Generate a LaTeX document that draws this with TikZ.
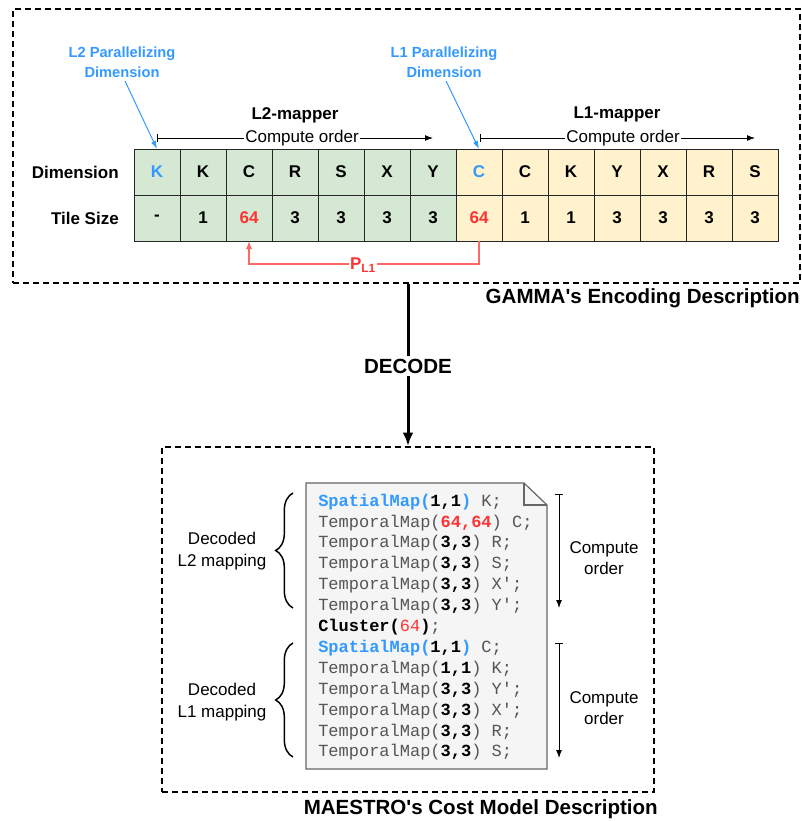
\documentclass[tikz,border=0pt]{standalone}
\usepackage{fontspec}
\setmainfont{Liberation Sans}
\setmonofont{Liberation Mono}
\usetikzlibrary{arrows.meta,decorations.pathreplacing}
\definecolor{gblue}{HTML}{3399FF}
\definecolor{gred}{HTML}{FF3333}
\definecolor{lred}{HTML}{FF6666}
\definecolor{gfill}{HTML}{D5E8D4}
\definecolor{yfill}{HTML}{FFF2CC}
\definecolor{docfill}{HTML}{F5F5F5}
\definecolor{docline}{HTML}{666666}
\definecolor{codegray}{HTML}{555555}
\newcommand{\bk}[1]{\textbf{\color{black}#1}}
\newcommand{\rdb}[1]{\textbf{\color{gred}#1}}
\begin{document}
\begin{tikzpicture}[x=0.75pt,y=-0.75pt,
  cell/.style={draw=black!85,line width=0.75pt,minimum width=34.5pt,minimum height=34.5pt,inner sep=0pt,outer sep=0pt,font=\bfseries\fontsize{12.75}{15}\selectfont},
  dbox/.style={draw=black,line width=1.5pt,dash pattern=on 4.5pt off 3pt,inner sep=0pt},
  lbl/.style={font=\fontsize{12.75}{16}\selectfont},
  blbl/.style={font=\bfseries\fontsize{12.75}{16}\selectfont},
  title/.style={font=\bfseries\fontsize{15.4}{18}\selectfont},
  plbl/.style={text=gblue,align=center,font=\bfseries\fontsize{11}{15}\selectfont},
  code/.style={anchor=west,inner sep=0pt,text=codegray,font=\ttfamily\fontsize{12.75}{15}\selectfont},
  cord/.style={line width=0.75pt,{Bar[width=6pt]}-{Latex[length=6pt,width=4.5pt]}},
  brc/.style={decorate,decoration={brace,amplitude=13pt,aspect=0.5},line width=1.1pt}
]
\useasboundingbox (0,0) rectangle (802,821);

% boxes
\node[dbox,minimum width=590.25pt,minimum height=205.5pt] (top) at (406.5,146) {};
\node[dbox,minimum width=369pt,minimum height=258.75pt] (bot) at (408,619.5) {};
\node[title,anchor=east,inner sep=0pt] (gtitle) at (800,298) {GAMMA\textquotesingle s Encoding Description};
\node[title,anchor=east,inner sep=0pt] (mtitle) at (658,809) {MAESTRO\textquotesingle s Cost Model Description};

% table
\foreach \i/\d/\t/\f in {
 1/{\textcolor{gblue}{K}}/-/gfill, 2/K/1/gfill, 3/C/{\textcolor{gred}{64}}/gfill, 4/R/3/gfill,
 5/S/3/gfill, 6/X/3/gfill, 7/Y/3/gfill,
 8/{\textcolor{gblue}{C}}/{\textcolor{gred}{64}}/yfill, 9/C/1/yfill, 10/K/1/yfill, 11/Y/3/yfill,
 12/X/3/yfill, 13/R/3/yfill, 14/S/3/yfill}{
  \node[cell,fill=\f] (d\i) at ({111+46*\i},172) {\d};
  \node[cell,fill=\f] (t\i) at ({111+46*\i},218) {\t};
}
\node[blbl,anchor=east,inner sep=0pt] (dimlbl) at (119,172) {Dimension};
\node[blbl,anchor=east,inner sep=0pt] (tilelbl) at (119,218) {Tile Size};

% mappers
\node[blbl] (l2m) at (295,115) {L2-mapper};
\node[blbl] (l1m) at (617,114) {L1-mapper};
\coordinate (c2s) at (157,138);
\coordinate (c2e) at (433,138);
\coordinate (c1s) at (480,138);
\coordinate (c1e) at (755,138);
\draw[cord] (c2s) -- (c2e);
\draw[cord] (c1s) -- (c1e);
\node[lbl,fill=white,inner sep=1pt] (co2) at (302,138) {Compute order};
\node[lbl,fill=white,inner sep=1pt] (co1) at (623,138) {Compute order};

% parallelizing labels
\node[plbl] (p2) at (122,62) {L2 Parallelizing\\Dimension};
\node[plbl] (p1) at (444,62) {L1 Parallelizing\\Dimension};
\draw[gblue,line width=0.75pt,-{Latex[length=6pt,width=4pt]}] (125,81) -- (d1.north);
\draw[gblue,line width=0.75pt,-{Latex[length=6pt,width=4pt]}] (446,81) -- (d8.north);

% P_L1
\draw[lred,line width=0.9pt,-{Latex[length=6pt,width=4.5pt]}] (t8.south) -- (479,264) -- (249,264) -- (t3.south);
\node[fill=white,inner sep=1pt,text=gred,font=\bfseries\fontsize{12.75}{15}\selectfont] (pl1) at (363,265) {P\textsubscript{L1}};

% decode
\draw[line width=2.25pt,-{Latex[length=10pt,width=8pt]}] (top.south -| bot.north) -- (bot.north);
\node[title,fill=white,inner sep=2pt] (dec) at (408,366) {DECODE};

% document
\draw[docline,fill=docfill,line width=0.9pt] (306,483) -- (524,483) -- (547,505) -- (547,769) -- (306,769) -- cycle;
\draw[docline,line width=0.9pt] (524,483) -- (524,505) -- (547,505);

\node[code] (k1) at (318,501.7) {\textbf{\color{gblue}SpatialMap(}\bk{1,1}\textbf{\color{gblue})} K;};
\node[code] (k2) at (318,522.6) {TemporalMap(\rdb{64,64}) C;};
\node[code] (k3) at (318,543.5) {TemporalMap(\bk{3,3}) R;};
\node[code] (k4) at (318,564.4) {TemporalMap(\bk{3,3}) S;};
\node[code] (k5) at (318,585.3) {TemporalMap(\bk{3,3}) X\textquotesingle;};
\node[code] (k6) at (318,606.2) {TemporalMap(\bk{3,3}) Y\textquotesingle;};
\node[code] (k7) at (318,627.1) {\bk{Cluster(}{\color{gred}64}\bk{)};};
\node[code] (k8) at (318,648.0) {\textbf{\color{gblue}SpatialMap(}\bk{1,1}\textbf{\color{gblue})} C;};
\node[code] (k9) at (318,668.9) {TemporalMap(\bk{1,1}) K;};
\node[code] (k10) at (318,689.8) {TemporalMap(\bk{3,3}) Y\textquotesingle;};
\node[code] (k11) at (318,710.7) {TemporalMap(\bk{3,3}) X\textquotesingle;};
\node[code] (k12) at (318,731.6) {TemporalMap(\bk{3,3}) R;};
\node[code] (k13) at (318,752.5) {TemporalMap(\bk{3,3}) S;};

% braces
\coordinate (b2a) at (293,608);
\coordinate (b2b) at (293,493);
\coordinate (b1a) at (293,757);
\coordinate (b1b) at (293,643);
\draw[brc] (b2a) -- (b2b);
\draw[brc] (b1a) -- (b1b);
\node[lbl,align=center,font=\fontsize{12.75}{16.5}\selectfont] (dl2) at (222,551) {Decoded\\L2 mapping};
\node[lbl,align=center,font=\fontsize{12.75}{16.5}\selectfont] (dl1) at (222,702) {Decoded\\L1 mapping};

% compute order (bottom)
\coordinate (r2s) at (559,494);
\coordinate (r2e) at (559,608);
\coordinate (r1s) at (559,643);
\coordinate (r1e) at (559,758);
\draw[cord] (r2s) -- (r2e);
\draw[cord] (r1s) -- (r1e);
\node[lbl,align=center,font=\fontsize{12.75}{15.75}\selectfont] (cr2) at (604,558) {Compute\\order};
\node[lbl,align=center,font=\fontsize{12.75}{15.75}\selectfont] (cr1) at (604,708) {Compute\\order};
\end{tikzpicture}
\end{document}
